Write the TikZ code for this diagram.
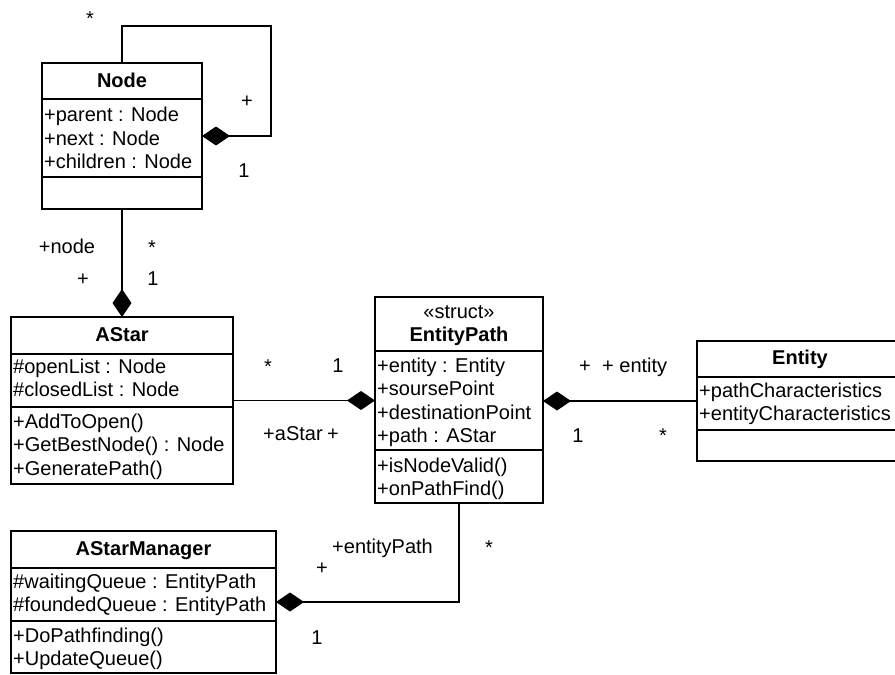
\documentclass[tikz,border=0pt]{standalone}
\usepackage{fontspec}
\setmainfont{Liberation Sans}
\usetikzlibrary{arrows.meta,calc}

% class box: name, left, top, right, bottom, first separator y, second separator y
\newcommand\umlclass[7]{%
  \node[cls, minimum width={(#4-#2)*1pt}, minimum height={(#5-#3)*1pt}] (#1) at (#2,#3) {};
  \draw[sepline] (#2,#6) -- (#4,#6);
  \draw[sepline] (#2,#7) -- (#4,#7);
}
% member lines: name prefix, left edge, first baseline, list of lines
\newcommand\umlmembers[4]{%
  \foreach \m [count=\k] in {#4} {\node[txt] (#1-\k) at ({#2+2},{#3+23.5*(\k-1)}) {\m};}
}

\begin{document}
\begin{tikzpicture}[x=1pt,y=-1pt,
  cls/.style={draw, line width=1.6pt, anchor=north west, inner sep=0pt, outer sep=0pt},
  sepline/.style={line width=1.6pt},
  txt/.style={inner sep=0pt, font=\fontsize{20}{24}\selectfont, anchor=base west},
  ttl/.style={inner sep=0pt, font=\fontsize{20}{24}\selectfont\bfseries, anchor=base},
  lbl/.style={inner sep=0pt, font=\fontsize{20}{24}\selectfont, anchor=base},
  lblw/.style={lbl, anchor=base west},
  assoc/.style={line width=1.1pt},
  comp/.style={assoc, -{Diamond[length=28pt,width=19pt]}}]

\useasboundingbox (0,0) rectangle (895,675);

% ---- classes ----
\umlclass{Node}{42}{63}{202}{209}{99}{177}
\node[ttl] (Node-t) at (122,87) {Node};
\umlmembers{Node-a}{42}{121.5}{+parent : Node, +next : Node, +children : Node}

\umlclass{AStar}{11}{317}{233}{484}{354}{407}
\node[ttl] (AStar-t) at (122,341) {AStar};
\umlmembers{AStar-a}{11}{373}{\#openList : Node, \#closedList : Node}
\umlmembers{AStar-o}{11}{428}{+AddToOpen(), +GetBestNode() : Node, +GeneratePath()}

\umlclass{EntityPath}{375}{297}{543}{503}{351}{450}
\node[lbl] (EntityPath-s) at (459,318) {«struct»};
\node[ttl] (EntityPath-t) at (459,341) {EntityPath};
\umlmembers{EntityPath-a}{375}{372}{+entity : Entity, +soursePoint, +destinationPoint, +path : AStar}
\umlmembers{EntityPath-o}{375}{472}{+isNodeValid(), +onPathFind()}

\umlclass{Entity}{697}{341}{903}{461}{377}{430}
\node[ttl] (Entity-t) at (800,364) {Entity};
\umlmembers{Entity-a}{697}{397}{+pathCharacteristics, +entityCharacteristics}

\umlclass{AStarManager}{11}{531}{276}{673}{568}{621}
\node[ttl] (AStarManager-t) at (143.5,555) {AStarManager};
\umlmembers{AStarManager-a}{11}{588}{\#waitingQueue : EntityPath, \#foundedQueue : EntityPath}
\umlmembers{AStarManager-o}{11}{642}{+DoPathfinding(), +UpdateQueue()}

% ---- compositions ----
\coordinate (loop) at (271,26);
\draw[comp] (Node.north) |- (loop) |- (Node.east);
\draw[comp] (Node.south) -- (AStar.north);
\draw[comp] (AStar.east) -- (AStar.east -| EntityPath.west);
\draw[comp] (Entity.west) -- (Entity.west -| EntityPath.east);
\draw[comp] (EntityPath.south) |- (AStarManager.east);

% ---- role names and multiplicities ----
\node[lbl] (l1) at (90,25) {*};
\node[lbl] (l2) at (247,107.5) {+};
\node[lbl] (l3) at (244,177) {1};

\node[lbl] (l4) at (67,253) {+node};
\node[lbl] (l5) at (152,254) {*};
\node[lbl] (l6) at (83,285) {+};
\node[lbl] (l7) at (153,285) {1};

\node[lbl] (l8) at (268,373) {*};
\node[lbl] (l9) at (338,372) {1};
\node[lblw] (l10) at (263,440) {+aStar};
\node[lblw] (l11) at (327,440) {+};

\node[lblw] (l12) at (579,372) {+};
\node[lblw] (l13) at (602,372) {+ entity};
\node[lbl] (l14) at (578,442) {1};
\node[lbl] (l15) at (663,442) {*};

\node[lblw] (l16) at (332,553) {+entityPath};
\node[lbl] (l17) at (322,574) {+};
\node[lbl] (l18) at (489,554) {*};
\node[lbl] (l19) at (317,644) {1};
\end{tikzpicture}
\end{document}
